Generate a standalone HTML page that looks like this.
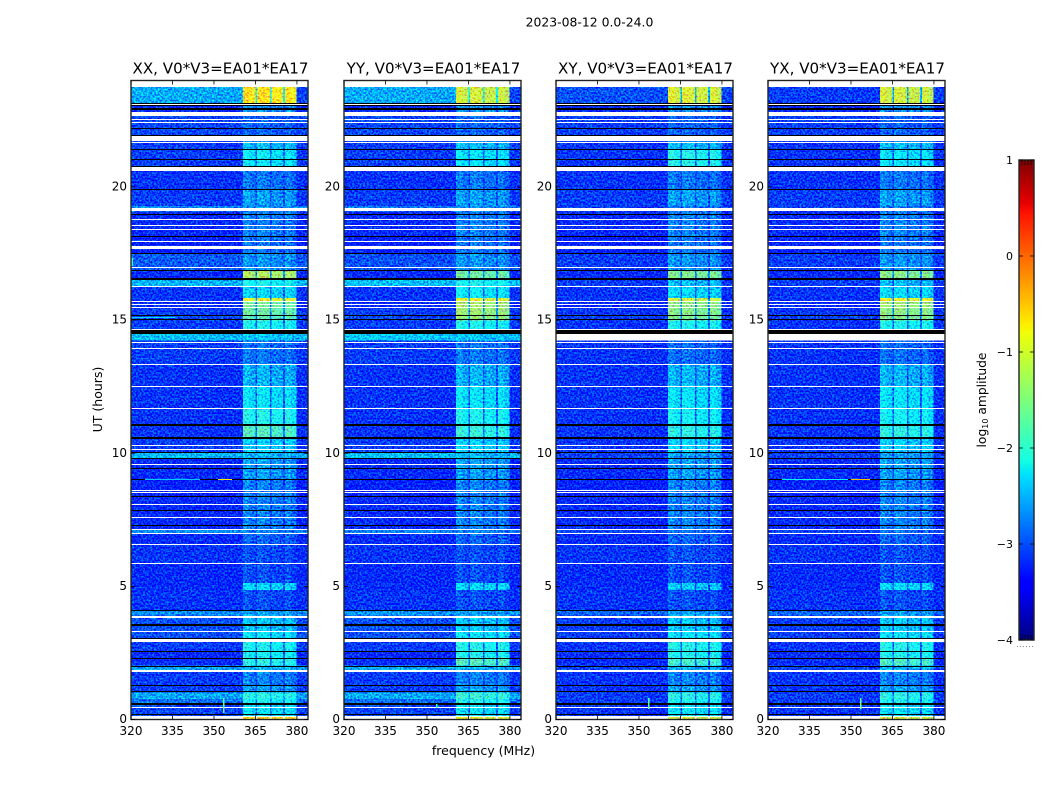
<!DOCTYPE html>
<html lang="en">
<head>
<meta charset="utf-8">
<title>2023-08-12 0.0-24.0</title>
<style>
html,body{margin:0;padding:0;background:#fff;}
svg{display:block;}
text{font-family:"DejaVu Sans","Liberation Sans",sans-serif;fill:#000;}
.cells rect{shape-rendering:crispEdges;}
.crisp{shape-rendering:crispEdges;}
</style>
</head>
<body>
<svg id="figure" xmlns="http://www.w3.org/2000/svg" width="1050" height="800" viewBox="0 0 1050 800">
  <defs>
    <filter id="speckle" filterUnits="userSpaceOnUse" x="100" y="60" width="880" height="680" color-interpolation-filters="sRGB">
      <feTurbulence type="fractalNoise" baseFrequency="0.55" numOctaves="1" seed="7" result="n"/>
      <feColorMatrix in="n" type="matrix" values="0 0 0 0 0.54  2.5 0 0 0 -0.72  0 1.5 0 0 -0.05  0 0 0 0 1" result="g"/>
      <feComposite in="g" in2="SourceGraphic" operator="arithmetic" k1="0" k2="0.7" k3="1" k4="-0.38" result="mixed"/>
      <feComposite in="mixed" in2="SourceGraphic" operator="in"/>
    </filter>
  </defs>
  <text x="589.5" y="26.5" font-size="12.4" text-anchor="middle">2023-08-12 0.0-24.0</text>
  <text x="483.5" y="755" font-size="12.5" text-anchor="middle">frequency (MHz)</text>
  <text transform="translate(102,399.5) rotate(-90)" font-size="12.5" text-anchor="middle">UT (hours)</text>
  <text transform="translate(986,400) rotate(-90)" font-size="12.3" text-anchor="middle">log<tspan font-size="8" dy="2">10</tspan><tspan dy="-2"> amplitude</tspan></text>
  <g id="panels"></g>
  <g id="colorbar"></g>
</svg>
<script>
// ---- Axis values ----
const xTickValues = [320, 335, 350, 365, 380];
const yTickValues = [0, 5, 10, 15, 20];
const colorbarTicks = [1, 0, -1, -2, -3, -4];
const panelTitles = ["XX, V0*V3=EA01*EA17", "YY, V0*V3=EA01*EA17", "XY, V0*V3=EA01*EA17", "YX, V0*V3=EA01*EA17"];

// ---- Frequency channels (MHz) and their log10 offsets ----
const channelEdges = [320, 335, 350, 360.5, 362.8, 365, 365.6, 368, 370.2, 370.8, 373, 375, 375.6, 377.8, 379.8, 384];
const channelRoles = ["base", "base", "base", "block", "block", "gap", "block", "block", "gap", "block", "block", "gap", "block", "block", "edge"];
const channelOffsets = [0.03, 0.02, 0, 0.08, -0.04, 0, 0.06, 0.02, 0, -0.02, -0.06, 0, 0.03, -0.1, 0];

// ---- Time segments (UT hours), 51 edges for 50 segments ----
const segmentEdges = [
  0, 0.09, 0.54, 0.77, 1.02, 1.29, 1.85, 2.02, 2.32, 2.56,
  3.05, 3.32, 3.91, 4.11, 4.86, 5.13, 5.87, 6.59, 7.01, 7.15,
  8.38, 9.02, 9.82, 10.01, 10.6, 11.09, 11.7, 12.51, 13.34, 14.24,
  14.48, 14.99, 15.2, 15.44, 15.71, 15.84, 16.27, 16.5, 16.88, 17.52,
  18.15, 19.08, 19.29, 19.92, 20.76, 21.4, 21.71, 22.68, 23.15, 23.75, 24
];

// ---- log10 amplitude per time segment: outside the RFI blocks ----
const xxBase = [
  null, -3.05, -2.85, -2.55, -3.1, -3.1, -2.6, -3.2, -3.2, -3.1,
  -3.0, -3.0, -2.7, -3.15, -3.2, -3.2, -3.15, -3.2, -2.7, -3.2,
  -3.25, -3.2, -2.5, -3.1, -3.15, -3.15, -3.15, -3.15, -3.1, -2.45,
  -3.1, -3.05, -3.1, -3.2, -3.15, -3.15, -2.5, -3.2, -2.95, -3.25,
  -3.2, -2.7, -3.1, -3.15, -3.1, -3.1, -3.05, -3.2, -2.55, null
];
const yyBase = [
  null, -3.05, -2.85, -2.55, -3.1, -3.1, -2.55, -3.2, -3.2, -3.1,
  -3.0, -3.0, -2.65, -3.15, -3.2, -3.2, -3.15, -3.2, -2.75, -3.2,
  -3.25, -3.2, -2.45, -3.1, -3.15, -3.15, -3.15, -3.15, -3.1, -2.4,
  -3.1, -3.05, -3.1, -3.2, -3.15, -3.15, -2.45, -3.2, -3.0, -3.25,
  -3.2, -2.8, -3.1, -3.15, -3.1, -3.1, -3.05, -3.2, -2.55, null
];
const xyBase = [
  null, -3.15, -3.1, -3.1, -3.15, -3.15, -3.05, -3.2, -3.2, -3.15,
  -3.1, -3.1, -2.9, -3.15, -3.2, -3.2, -3.15, -3.2, -3.05, -3.2,
  -3.25, -3.2, -3.1, -3.15, -3.15, -3.15, -3.15, -3.15, -3.15, null,
  -3.15, -3.1, -3.15, -3.2, -3.15, -3.15, -3.1, -3.2, -3.1, -3.25,
  -3.2, -3.1, -3.1, -3.15, -3.15, -3.15, -3.1, -3.2, -3.0, null
];
const yxBase = [
  null, -3.15, -3.1, -3.1, -3.15, -3.15, -3.05, -3.2, -3.2, -3.15,
  -3.1, -3.1, -2.9, -3.15, -3.2, -3.2, -3.15, -3.2, -3.05, -3.2,
  -3.25, -3.2, -3.1, -3.15, -3.15, -3.15, -3.15, -3.15, -3.15, null,
  -3.15, -3.1, -3.15, -3.2, -3.15, -3.15, -3.1, -3.2, -3.1, -3.25,
  -3.2, -3.1, -3.1, -3.15, -3.15, -3.15, -3.1, -3.2, -3.1, null
];

// ---- log10 amplitude per time segment: inside the RFI blocks ----
const xxBlock = [
  -0.6, -2.25, -2.1, -2.0, -2.6, -2.75, -2.5, -2.0, -2.15, -2.1,
  -2.25, -2.4, -2.6, -3.0, -2.3, -3.0, -3.0, -2.9, -2.75, -2.75,
  -2.75, -2.6, -2.5, -2.35, -1.75, -2.05, -2.25, -2.5, -2.8, -2.4,
  -2.1, -1.7, -1.6, -1.55, -0.85, -2.3, -2.1, -1.2, -2.65, -2.8,
  -2.75, -2.7, -2.6, -2.8, -2.2, -2.45, -2.9, -2.65, -0.7, null
];
const yyBlock = [
  -0.9, -2.25, -2.05, -1.9, -2.6, -2.75, -2.5, -1.75, -2.1, -2.05,
  -2.25, -2.4, -2.6, -3.0, -2.3, -3.0, -3.0, -2.9, -2.75, -2.75,
  -2.75, -2.6, -2.5, -2.35, -1.95, -2.1, -2.25, -2.5, -2.8, -2.4,
  -2.1, -1.35, -1.3, -1.25, -0.9, -2.2, -2.1, -1.6, -2.65, -2.8,
  -2.75, -2.7, -2.6, -2.8, -2.25, -2.45, -2.9, -2.65, -1.0, null
];
const xyBlock = [
  -1.0, -2.25, -2.1, -2.0, -2.6, -2.75, -2.5, -1.85, -2.1, -2.05,
  -2.25, -2.4, -2.6, -3.0, -2.4, -3.0, -3.0, -2.9, -2.85, -2.75,
  -2.75, -2.6, -2.6, -2.35, -2.0, -2.15, -2.25, -2.5, -2.85, null,
  -2.1, -1.5, -1.45, -1.4, -1.0, -2.3, -2.45, -1.5, -2.65, -2.8,
  -2.75, -2.8, -2.6, -2.8, -2.05, -2.45, -2.9, -2.65, -0.95, null
];
const yxBlock = [
  -1.0, -2.25, -2.1, -2.0, -2.6, -2.75, -2.5, -1.8, -2.1, -2.05,
  -2.25, -2.4, -2.6, -3.0, -2.3, -3.0, -3.0, -2.9, -2.85, -2.75,
  -2.75, -2.6, -2.6, -2.35, -2.0, -2.15, -2.25, -2.5, -2.85, null,
  -2.1, -1.45, -1.4, -1.3, -0.85, -2.3, -2.45, -1.45, -2.65, -2.8,
  -2.75, -2.8, -2.6, -2.8, -2.25, -2.45, -2.9, -2.65, -1.0, null
];
const baseByPanel = [xxBase, yyBase, xyBase, yxBase];
const blockByPanel = [xxBlock, yyBlock, xyBlock, yxBlock];

// ---- Flagged data: white rows (no data), UT hours ----
const whiteGapStarts = [0.09, 0.43, 1.78, 2.91, 3.28, 3.82, 5.83, 6.55, 6.97, 7.11, 7.56, 8.08, 8.38, 8.51, 8.59, 9.55, 10.11, 10.27, 11.66, 12.48, 13.30, 13.91, 14.15, 14.64, 15.44, 15.55, 15.68, 16.27, 16.95, 17.67, 17.95, 18.40, 18.54, 18.77, 19.08, 20.61, 21.64, 21.71, 22.42, 22.51, 22.68, 23.07, 23.75];
const whiteGapEnds = [0.14, 0.47, 1.85, 3.01, 3.32, 3.87, 5.87, 6.59, 7.01, 7.15, 7.60, 8.11, 8.41, 8.55, 8.62, 9.59, 10.15, 10.31, 11.70, 12.51, 13.34, 13.94, 14.19, 14.68, 15.48, 15.59, 15.71, 16.30, 17.00, 17.78, 17.99, 18.44, 18.58, 18.81, 19.22, 20.76, 21.68, 21.91, 22.46, 22.56, 22.81, 23.12, 24];

// ---- Zero-amplitude rows (black), UT hours ----
const blackGapStarts = [0.16, 0.54, 1.02, 1.26, 1.98, 2.27, 2.52, 3.01, 3.53, 4.07, 7.26, 7.82, 8.34, 8.99, 9.40, 9.79, 10.01, 10.53, 11.02, 14.48, 14.99, 15.17, 16.50, 16.83, 17.48, 18.12, 18.94, 19.88, 20.76, 21.02, 21.40, 21.91, 22.18, 22.91, 23.03, 23.12];
const blackGapEnds = [0.21, 0.61, 1.07, 1.29, 2.02, 2.32, 2.56, 3.05, 3.57, 4.11, 7.30, 7.87, 8.38, 9.02, 9.44, 9.82, 10.06, 10.60, 11.09, 14.64, 15.03, 15.20, 16.58, 16.88, 17.52, 18.15, 18.98, 19.92, 20.80, 21.06, 21.43, 21.95, 22.22, 22.95, 23.07, 23.15];

// ---- Narrow-band interference streaks ----
const streakPanels = [0, 0, 3, 3, 0, 2, 3, 1, 0, 0];
const streakStartMHz = [351.4, 325, 350, 325, 353.3, 353.3, 353.3, 353.3, 320, 320];
const streakEndMHz = [356.6, 345, 356.8, 349, 353.8, 353.8, 353.8, 353.8, 336, 320.7];
const streakStartHour = [8.98, 8.98, 8.98, 8.98, 0.25, 0.4, 0.4, 0.45, 15.08, 17.05];
const streakEndHour = [9.03, 9.03, 9.03, 9.03, 0.8, 0.8, 0.8, 0.6, 15.12, 17.35];
const streakLevels = [-0.7, -2.4, -0.45, -2.2, -1.7, -1.7, -1.6, -1.9, -2.3, -1.9];

// ---- Jet colormap anchors ----
const jetRedT = [0, 0.35, 0.66, 0.89, 1];
const jetRedV = [0, 0, 1, 1, 0.5];
const jetGreenT = [0, 0.125, 0.375, 0.64, 0.91, 1];
const jetGreenV = [0, 0, 1, 1, 0, 0];
const jetBlueT = [0, 0.11, 0.34, 0.65, 1];
const jetBlueV = [0.5, 1, 1, 0, 0];

// ---- Layout ----
const NS = "http://www.w3.org/2000/svg";
const panelLefts = [131, 344, 556, 768];
const panelWidth = 177;
const plotTop = 80.5;
const plotBottom = 719.5;
const colorMin = -4;
const colorMax = 1;
const gapLeak = 0.25;
const rolloffSegment = 48;
const rolloffLevel = -3.05;
const cbLeft = 1019, cbRight = 1034, cbTop = 160, cbBottom = 640;

function xScale(panel, mhz) { return panelLefts[panel] + (mhz - 320) / 64 * panelWidth; }
function yScale(hour) { return plotBottom - hour / 24 * (plotBottom - plotTop); }
function cbScale(level) { return cbBottom - (level - colorMin) / (colorMax - colorMin) * (cbBottom - cbTop); }

function interp(t, ts, vs) {
  for (let i = 1; i < ts.length; i++) {
    if (t <= ts[i]) return vs[i - 1] + (vs[i] - vs[i - 1]) * (t - ts[i - 1]) / (ts[i] - ts[i - 1]);
  }
  return vs[vs.length - 1];
}
function levelColor(level) {
  const t = Math.min(1, Math.max(0, (level - colorMin) / (colorMax - colorMin)));
  const r = Math.round(255 * interp(t, jetRedT, jetRedV));
  const g = Math.round(255 * interp(t, jetGreenT, jetGreenV));
  const b = Math.round(255 * interp(t, jetBlueT, jetBlueV));
  return "rgb(" + r + "," + g + "," + b + ")";
}
function make(tag, parent, attrs) {
  const el = document.createElementNS(NS, tag);
  for (const k in attrs) el.setAttribute(k, attrs[k]);
  parent.appendChild(el);
  return el;
}
function cellLevel(panel, seg, ch) {
  const base = baseByPanel[panel][seg];
  const block = blockByPanel[panel][seg];
  const role = channelRoles[ch];
  if (role === "block") return block === null ? null : block + channelOffsets[ch];
  if (base === null) return null;
  if (role === "gap") return block === null ? base : base + gapLeak * (block - base);
  if (role === "edge" && seg === rolloffSegment) return Math.min(base, rolloffLevel);
  return base + channelOffsets[ch];
}
function rowBox(startHour, endHour) {
  const top = Math.round(yScale(endHour));
  const bottom = Math.round(yScale(startHour));
  return { y: top, height: Math.max(1, bottom - top) };
}

const panelsRoot = document.getElementById("panels");
panelTitles.forEach(function (title, p) {
  const g = make("g", panelsRoot, {});
  
  

  const cells = make("g", g, { "class": "cells", filter: "url(#speckle)" });
  
  
  for (let s = 0; s < segmentEdges.length - 1; s++) {
    for (let c = 0; c < channelRoles.length; c++) {
      const level = cellLevel(p, s, c);
      if (level === null) continue;
      const x0 = xScale(p, channelEdges[c]);
      const x1 = xScale(p, channelEdges[c + 1]);
      const y0 = yScale(segmentEdges[s + 1]);
      const y1 = yScale(segmentEdges[s]);
      const cell = make("rect", cells, { x: x0, y: y0, width: x1 - x0, height: y1 - y0, fill: levelColor(level) });
      
      
    }
  }

  whiteGapStarts.forEach(function (start, i) {
    const box = rowBox(start, whiteGapEnds[i]);
    const r = make("rect", g, { "class": "crisp", x: xScale(p, 320), y: box.y, width: panelWidth, height: box.height, fill: "#fff" });
    
    
  });
  blackGapStarts.forEach(function (start, i) {
    const box = rowBox(start, blackGapEnds[i]);
    const r = make("rect", g, { "class": "crisp", x: xScale(p, 320), y: box.y, width: panelWidth, height: box.height, fill: "#000" });
    
    
  });
  streakPanels.forEach(function (sp, i) {
    if (sp !== p) return;
    const x0 = xScale(p, streakStartMHz[i]);
    const box = rowBox(streakStartHour[i], streakEndHour[i]);
    const r = make("rect", g, { "class": "crisp", x: x0, y: box.y, width: xScale(p, streakEndMHz[i]) - x0, height: box.height, fill: levelColor(streakLevels[i]) });
    
    
  });

  const left = xScale(p, 320);
  const right = left + panelWidth;
  const frame = make("rect", g, { x: left, y: plotTop, width: panelWidth, height: plotBottom - plotTop, fill: "none", stroke: "#222", "stroke-width": 1.4 });
  
  

  xTickValues.forEach(function (v) {
    const x = xScale(p, v);
    const bottomTick = make("line", g, { x1: x, x2: x, y1: plotBottom, y2: plotBottom - 4, stroke: "#000", "stroke-width": 0.8 });
    
    
    const topTick = make("line", g, { x1: x, x2: x, y1: plotTop, y2: plotTop + 4, stroke: "#000", "stroke-width": 0.8 });
    
    
    const label = make("text", g, { x: x, y: 735, "font-size": 12, "text-anchor": "middle" });
    
    
    label.textContent = v;
  });
  yTickValues.forEach(function (v) {
    const y = yScale(v);
    const leftTick = make("line", g, { x1: left, x2: left + 4, y1: y, y2: y, stroke: "#000", "stroke-width": 0.8 });
    
    
    const rightTick = make("line", g, { x1: right, x2: right - 4, y1: y, y2: y, stroke: "#000", "stroke-width": 0.8 });
    
    
    const label = make("text", g, { x: left - 4, y: y + 3.5, "font-size": 12, "text-anchor": "end" });
    
    
    label.textContent = v;
  });

  const titleEl = make("text", g, { x: left + panelWidth / 2 + 1, y: 73.5, "font-size": 15.1, "text-anchor": "middle" });
  
  
  titleEl.textContent = title;
});

// ---- Colorbar ----
const cbRoot = document.getElementById("colorbar");
const cbSteps = 240;
for (let i = 0; i < cbSteps; i++) {
  const lo = colorMin + (colorMax - colorMin) * i / cbSteps;
  const hi = colorMin + (colorMax - colorMin) * (i + 1) / cbSteps;
  const seg = make("rect", cbRoot, { "class": "crisp", x: cbLeft, y: cbScale(hi), width: cbRight - cbLeft, height: cbScale(lo) - cbScale(hi) + 0.5, fill: levelColor((lo + hi) / 2) });
  
  
}
const cbFrame = make("rect", cbRoot, { x: cbLeft, y: cbTop, width: cbRight - cbLeft, height: cbBottom - cbTop, fill: "none", stroke: "#222", "stroke-width": 1.4 });


colorbarTicks.forEach(function (v) {
  const y = cbScale(v);
  const t1 = make("line", cbRoot, { x1: cbLeft, x2: cbLeft + 4, y1: y, y2: y, stroke: "#000", "stroke-width": 0.8 });
  
  
  const t2 = make("line", cbRoot, { x1: cbRight, x2: cbRight - 4, y1: y, y2: y, stroke: "#000", "stroke-width": 0.8 });
  
  
  const label = make("text", cbRoot, { x: 1013, y: y + 4, "font-size": 11, "text-anchor": "end" });
  
  
  label.textContent = String(v).replace("-", "\u2212");
});
[cbTop, cbBottom - 5].forEach(function (y0) {
  for (let x = cbLeft + 3; x < cbRight; x += 3) {
    const hatch = make("line", cbRoot, { x1: x, x2: x, y1: y0, y2: y0 + 5, stroke: "#000", "stroke-width": 0.7 });
    
    
  }
});
const cbDots = make("line", cbRoot, { x1: 1017, x2: 1035, y1: 646.5, y2: 646.5, stroke: "#888", "stroke-width": 1, "stroke-dasharray": "1 2" });


</script>
</body>
</html>
